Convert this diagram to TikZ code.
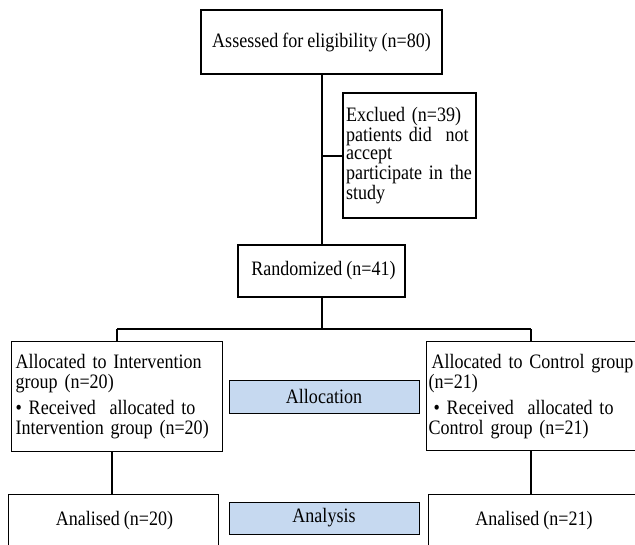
\documentclass[tikz,border=0pt]{standalone}
\usepackage{fontspec}
\setmainfont{Liberation Serif}[FakeStretch=0.88]
\definecolor{phase}{RGB}{198,217,240}
\newcommand{\diafont}[1]{\fontsize{20.5bp}{#1}\selectfont\spaceskip=4bp plus 1bp minus 0.5bp\relax}
\tikzset{
  box/.style={draw=black, line width=1.2bp, rectangle, inner sep=0pt, font=\diafont{20bp}},
  phasebox/.style={box, fill=phase, line width=1bp},
  conn/.style={draw=black, line width=1.3bp},
  plain/.style={font=\diafont{20bp}},
}
\begin{document}
\begin{tikzpicture}[x=1bp, y=-1bp]
\useasboundingbox (0,0) rectangle (635,545);
% top box
\node[box, minimum width=241bp, minimum height=64bp] (assess) at (321.5,42) {Assessed for eligibility (n=80)};
% excluded
\node[box, minimum width=133bp, minimum height=125bp, text width=127bp, align=left, inner xsep=3bp,
  font=\diafont{18.5bp}] (excl) at (409.5,155.5)
  {Exclued (n=39)\\patients did\ \ not\\accept\\participate in the\\study};
% randomized
\node[box, minimum width=167bp, minimum height=52bp] (rand) at (321.5,271) {\hspace*{4bp}Randomized (n=41)};
% allocated left
\node[box, anchor=north west, minimum width=211bp, minimum height=110bp, text width=203bp, inner xsep=4bp, align=left] (alloL) at (11,341)
  {Allocated to Intervention\\group (n=20)\\[6bp]\textbullet\ Received\ \ allocated to\\Intervention group (n=20)};
% allocated right
\node[box, anchor=north west, minimum width=219bp, minimum height=109bp, text width=215bp, inner xsep=2bp, align=left] (alloR) at (426,341)
  {\hspace*{3bp}Allocated to Control group\\(n=21)\\[6bp]\hspace*{5bp}\textbullet\ Received\ \ allocated to\\Control group (n=21)};
% phase labels
\node[phasebox, minimum width=190bp, minimum height=33bp] (allocation) at (324,396.5) {Allocation};
\node[phasebox, minimum width=190bp, minimum height=32bp] (analysis) at (324,518) {Analysis};
% analysed boxes
\node[box, anchor=north west, minimum width=210bp, minimum height=70bp] (anaL) at (8,494) {};
\node[plain] (anaLt) at (114.5,521) {Analised (n=20)};
\node[box, anchor=north west, minimum width=220bp, minimum height=70bp] (anaR) at (428,494) {};
\node[plain] (anaRt) at (534,521) {Analised (n=21)};
% connectors
\coordinate (branchE) at (322,156);
\coordinate (split) at (322,329);
\coordinate (splitL) at (117,329);
\coordinate (splitR) at (531,329);
\draw[conn] (assess.south -| split) -- (rand.north -| split);
\draw[conn] (branchE) -- (branchE -| excl.west);
\draw[conn] (rand.south -| split) -- (split);
\draw[conn] (splitL) -- (splitR);
\draw[conn] (splitL) -- (alloL.north -| splitL);
\draw[conn] (splitR) -- (alloR.north -| splitR);
\draw[conn] (112,451) -- (anaL.north -| 112,0);
\draw[conn] (531,450) -- (anaR.north -| 531,0);
\end{tikzpicture}
\end{document}
